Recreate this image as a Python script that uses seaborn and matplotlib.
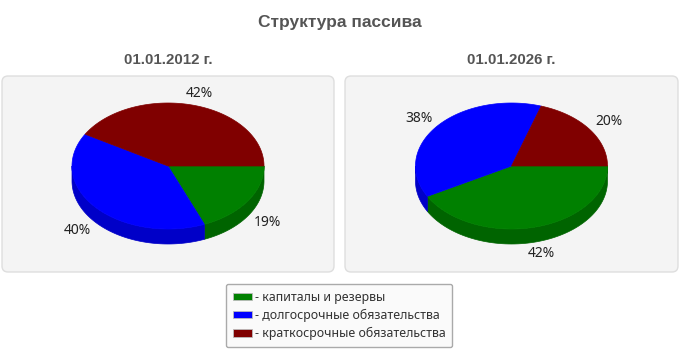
import numpy as np
import matplotlib
matplotlib.use("Agg")
import matplotlib.pyplot as plt
from matplotlib.patches import Polygon, FancyBboxPatch, Patch
import seaborn as sns

title = "Структура пассива"
categories = ["капиталы и резервы", "долгосрочные обязательства", "краткосрочные обязательства"]
dates = ["01.01.2012 г.", "01.01.2026 г."]
values_2012 = [19, 40, 42]
values_2026 = [42, 38, 20]
colors = ["#008000", "#0000ff", "#800000"]
side_colors = ["#006400", "#0000c8", "#5c0000"]

sns.set_theme(style="white")
plt.rcParams['font.family'] = ['Liberation Sans', 'DejaVu Sans']

W, H = 680, 350
fig = plt.figure(figsize=(6.8, 3.5), dpi=100)
fig.patch.set_facecolor("white")
ax = fig.add_axes([0, 0, 1, 1])
ax.set_xlim(0, W)
ax.set_ylim(H, 0)
ax.axis('off')

# title
ax.text(W / 2, 23, title, ha='center', va='center', fontsize=12.5,
        fontweight='bold', color='#555555')

panels = [(2, 76, 332, 196), (345, 76, 333, 196)]
RX, RY, DEPTH = 96, 63, 15


def pt(cx, cy, t, dy=0.0):
    r = np.radians(t)
    return cx + RX * np.cos(r), cy - RY * np.sin(r) + dy


def draw_pie(cx, cy, vals):
    vals = np.asarray(vals, dtype=float)
    fr = vals / vals.sum()
    cum = np.concatenate([[0], np.cumsum(fr)])
    starts = -360 * cum[:-1]
    ends = -360 * cum[1:]
    # sides (front half)
    for i in range(len(vals)):
        a0, a1 = ends[i], starts[i]  # a0 < a1
        for k in (0, -360):
            lo, hi = max(a0, k - 180), min(a1, k)
            if hi <= lo:
                continue
            ts = np.linspace(lo, hi, 80)
            top = np.array([pt(cx, cy, t) for t in ts])
            bot = np.array([pt(cx, cy, t, DEPTH) for t in ts[::-1]])
            ax.add_patch(Polygon(np.vstack([top, bot]), closed=True,
                                 facecolor=side_colors[i], edgecolor=side_colors[i],
                                 lw=0.5, zorder=2))
    # top faces
    for i in range(len(vals)):
        ts = np.linspace(ends[i], starts[i], 200)
        arc = np.array([pt(cx, cy, t) for t in ts])
        poly = np.vstack([[cx, cy], arc])
        ax.add_patch(Polygon(poly, closed=True, facecolor=colors[i],
                             edgecolor=colors[i], lw=0.5, zorder=3))
    # labels
    for i, v in enumerate(vals):
        mid = np.radians((starts[i] + ends[i]) / 2)
        s = np.sin(mid)
        lx = cx + 1.25 * RX * np.cos(mid)
        ly = cy - 1.19 * RY * s + (DEPTH if s < 0 else 0)
        ax.text(lx, ly, f"{v:.0f}%", ha='center', va='center', fontsize=10,
                color='#222222', family=['Noto Sans', 'DejaVu Sans'], zorder=4)


for (x, y, w, h), d, vals in zip(panels, dates, [values_2012, values_2026]):
    ax.add_patch(FancyBboxPatch((x, y), w, h, boxstyle="round,pad=0,rounding_size=6",
                                facecolor="#f4f4f4", edgecolor="#dedede", lw=1, zorder=1))
    ax.text(x + w / 2, 60, d, ha='center', va='center', fontsize=10.8,
            fontweight='bold', color='#555555')
    draw_pie(x + w / 2, 166, vals)

handles = [Patch(facecolor=c, edgecolor='#bbbbbb', lw=0.6) for c in colors]
leg = fig.legend(handles, ["- " + c for c in categories], loc='center',
                 bbox_to_anchor=(339 / W, 1 - 315.5 / H),
                 prop={'family': ['Noto Sans', 'DejaVu Sans'], 'size': 8.9},
                 handlelength=1.6, handleheight=0.55, handletextpad=0.2,
                 labelspacing=0.42, borderpad=0.55, borderaxespad=0,
                 fancybox=True, frameon=True, edgecolor='#aaaaaa',
                 facecolor='#fafafa', framealpha=1)
for t in leg.get_texts():
    t.set_color('#333333')

fig.savefig("out.png", dpi=100)
